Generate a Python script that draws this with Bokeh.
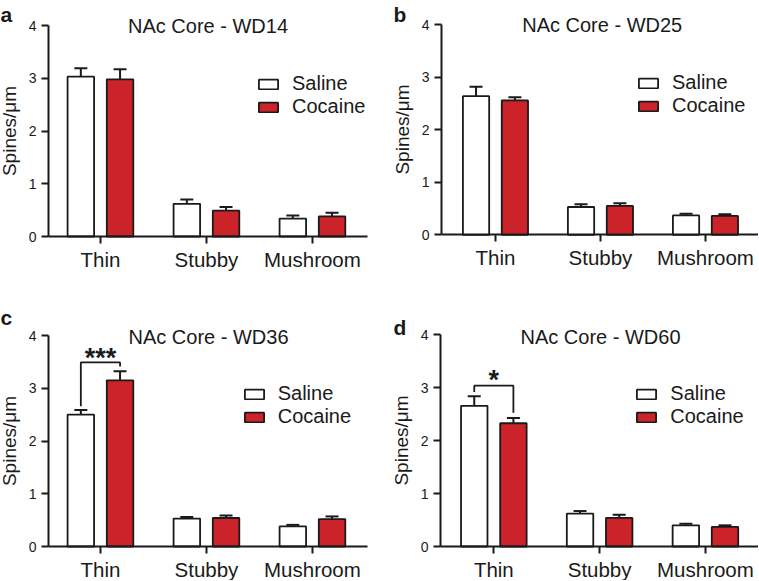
from bokeh.plotting import figure
from bokeh.models import (FixedTicker, Whisker, TeeHead, ColumnDataSource, Label,
                          Legend, LegendItem, Range1d)
from bokeh.layouts import column, row
from bokeh.embed import file_html
from bokeh.resources import INLINE

# ---------------- data ----------------
categories = ["Thin", "Stubby", "Mushroom"]
groups = ["Saline", "Cocaine"]
panel_letters = ["a", "b", "c", "d"]
panel_titles = ["NAc Core - WD14", "NAc Core - WD25", "NAc Core - WD36", "NAc Core - WD60"]
y_ticks = [0, 1, 2, 3, 4]
y_label = "Spines/\u03bcm"

saline_wd14 = [3.03, 0.62, 0.34]
saline_wd14_err = [0.16, 0.08, 0.06]
cocaine_wd14 = [2.98, 0.49, 0.38]
cocaine_wd14_err = [0.19, 0.07, 0.07]

saline_wd25 = [2.64, 0.53, 0.37]
saline_wd25_err = [0.18, 0.05, 0.03]
cocaine_wd25 = [2.56, 0.55, 0.36]
cocaine_wd25_err = [0.06, 0.05, 0.03]

saline_wd36 = [2.50, 0.53, 0.38]
saline_wd36_err = [0.09, 0.03, 0.03]
cocaine_wd36 = [3.15, 0.54, 0.52]
cocaine_wd36_err = [0.17, 0.05, 0.05]

saline_wd60 = [2.66, 0.62, 0.40]
saline_wd60_err = [0.18, 0.05, 0.03]
cocaine_wd60 = [2.33, 0.54, 0.37]
cocaine_wd60_err = [0.10, 0.06, 0.03]

# significance brackets (Thin): y of left foot, top, top, right foot
sig_wd36_y = [2.66, 3.49, 3.49, 3.41]
sig_wd36_text = "***"
sig_wd36_text_y = 3.57
sig_wd60_y = [2.92, 3.04, 3.04, 2.53]
sig_wd60_text = "*"
sig_wd60_text_y = 3.14

# ---------------- style / layout ----------------
RED = "#cc2229"
INK = "#1a1a1a"
FONT = "Liberation Sans"
BAR_W = 0.25
OFF = 0.185

# W,H: figure size; L: px of y axis; k: px per x unit; xa: x-axis extent;
# y0: px of y=0; m: px per y unit; annotation positions in px
panels = [
    dict(sal=saline_wd14, sal_e=saline_wd14_err, coc=cocaine_wd14, coc_e=cocaine_wd14_err,
         W=380, H=282, L=48, k=106.0, xa=(-0.49, 2.52), y0=236, m=52.75,
         letter_px=(0, 14), title_px=(207.5, 25), leg=(256, 164), sig=None),
    dict(sal=saline_wd25, sal_e=saline_wd25_err, coc=cocaine_wd25, coc_e=cocaine_wd25_err,
         W=378, H=282, L=61, k=105.0, xa=(-0.514, 2.505), y0=234.3, m=52.5,
         letter_px=(13, 14), title_px=(221.7, 24.5), leg=(256, 164.7), sig=None),
    dict(sal=saline_wd36, sal_e=saline_wd36_err, coc=cocaine_wd36, coc_e=cocaine_wd36_err,
         W=380, H=298, L=48, k=106.0, xa=(-0.49, 2.52), y0=264, m=52.75,
         letter_px=(0, 35), title_px=(208, 54.7), leg=(241.7, 151.7),
         sig=(sig_wd36_y, sig_wd36_text, sig_wd36_text_y)),
    dict(sal=saline_wd60, sal_e=saline_wd60_err, coc=cocaine_wd60, coc_e=cocaine_wd60_err,
         W=378, H=298, L=60, k=105.8, xa=(-0.504, 2.50), y0=264, m=52.9,
         letter_px=(13, 45), title_px=(220, 54.7), leg=(254.3, 151.7),
         sig=(sig_wd60_y, sig_wd60_text, sig_wd60_text_y)),
]


def make_panel(i, cfg):
    W, H, L, k, y0, m = cfg["W"], cfg["H"], cfg["L"], cfg["k"], cfg["y0"], cfg["m"]
    xs = cfg["xa"][0] - L / k
    xe = xs + W / k
    ys = -(H - y0) / m
    ye = y0 / m

    def dx(px):
        return xs + px / k

    def dy(py):
        return (y0 - py) / m

    p = figure(width=W, height=H, output_backend="svg", toolbar_location=None,
               x_range=Range1d(xs, xe), y_range=Range1d(ys, ye),
               min_border=0, min_border_left=0, min_border_right=0,
               min_border_top=0, min_border_bottom=0)
    p.outline_line_color = None
    p.xgrid.visible = False
    p.ygrid.visible = False
    p.background_fill_color = "white"
    p.border_fill_color = "white"

    pos = list(range(len(categories)))
    xs_sal = [v - OFF for v in pos]
    xs_coc = [v + OFF for v in pos]

    src_s = ColumnDataSource(dict(x=xs_sal, top=cfg["sal"],
                                  up=[a + b for a, b in zip(cfg["sal"], cfg["sal_e"])]))
    src_c = ColumnDataSource(dict(x=xs_coc, top=cfg["coc"],
                                  up=[a + b for a, b in zip(cfg["coc"], cfg["coc_e"])]))

    for src in (src_s, src_c):
        wk = Whisker(base="x", lower="top", upper="up", source=src, dimension="height",
                     line_width=2, line_color=INK, lower_head=None,
                     upper_head=TeeHead(size=13, line_width=2, line_color=INK))
        p.add_layout(wk)

    r_s = p.vbar(x="x", top="top", width=BAR_W, bottom=0, source=src_s,
                 fill_color="white", line_color=INK, line_width=1.8)
    r_c = p.vbar(x="x", top="top", width=BAR_W, bottom=0, source=src_c,
                 fill_color=RED, line_color=INK, line_width=1.8)

    legend = Legend(items=[LegendItem(label=groups[0], renderers=[r_s]),
                           LegendItem(label=groups[1], renderers=[r_c])],
                    location=cfg["leg"], padding=0, margin=0, spacing=0,
                    glyph_width=24, glyph_height=12, label_standoff=12,
                    label_text_font_size="20px", label_text_font=FONT,
                    label_text_color=INK, border_line_alpha=0,
                    background_fill_alpha=0)
    p.add_layout(legend)

    # axes, pinned at the data origin
    p.xaxis.ticker = FixedTicker(ticks=pos)
    p.xaxis.major_label_overrides = {k_: c for k_, c in zip(pos, categories)}
    p.xaxis.bounds = cfg["xa"]
    p.xaxis.fixed_location = 0
    p.yaxis.ticker = FixedTicker(ticks=y_ticks)
    p.yaxis.bounds = (0, 4)
    p.yaxis.fixed_location = cfg["xa"][0]
    for ax in (p.xaxis[0], p.yaxis[0]):
        ax.axis_line_width = 2
        ax.axis_line_color = INK
        ax.major_tick_line_width = 2
        ax.major_tick_line_color = INK
        ax.major_tick_in = 0
        ax.major_tick_out = 7
        ax.minor_tick_line_color = None
        ax.major_label_text_color = INK
        ax.major_label_text_font = FONT
    p.xaxis.major_label_text_font_size = "20.5px"
    p.xaxis.major_label_standoff = 4
    p.yaxis.major_label_text_font_size = "14px"
    p.yaxis.major_label_standoff = 5
    p.yaxis.axis_label = y_label
    p.yaxis.axis_label_text_font = FONT
    p.yaxis.axis_label_text_font_size = "19px"
    p.yaxis.axis_label_text_font_style = "normal"
    p.yaxis.axis_label_text_color = INK
    p.yaxis.axis_label_standoff = 6

    # title and panel letter
    tx, ty = cfg["title_px"]
    p.add_layout(Label(x=dx(tx), y=dy(ty), text=panel_titles[i], text_align="center",
                       text_baseline="middle", text_font=FONT, text_font_size="20px",
                       text_color=INK))
    lx, ly = cfg["letter_px"]
    p.add_layout(Label(x=dx(lx), y=dy(ly), text=panel_letters[i],
                       text_align="left", text_baseline="alphabetic", text_font=FONT,
                       text_font_size="21px", text_font_style="bold", text_color=INK))

    if cfg["sig"] is not None:
        ys_, txt, tyy = cfg["sig"]
        bx = [xs_sal[0], xs_sal[0], xs_coc[0], xs_coc[0]]
        p.line(bx, ys_, line_color=INK, line_width=1.8)
        p.add_layout(Label(x=(xs_sal[0] + xs_coc[0]) / 2, y=tyy, text=txt,
                           text_align="center", text_baseline="alphabetic",
                           text_font=FONT, text_font_size="27px",
                           text_font_style="bold", text_color=INK))
    return p


figs = [make_panel(i, c) for i, c in enumerate(panels)]
layout = column(row(figs[0], figs[1]), row(figs[2], figs[3]))

open("out.html", "w").write(file_html(layout, INLINE))
